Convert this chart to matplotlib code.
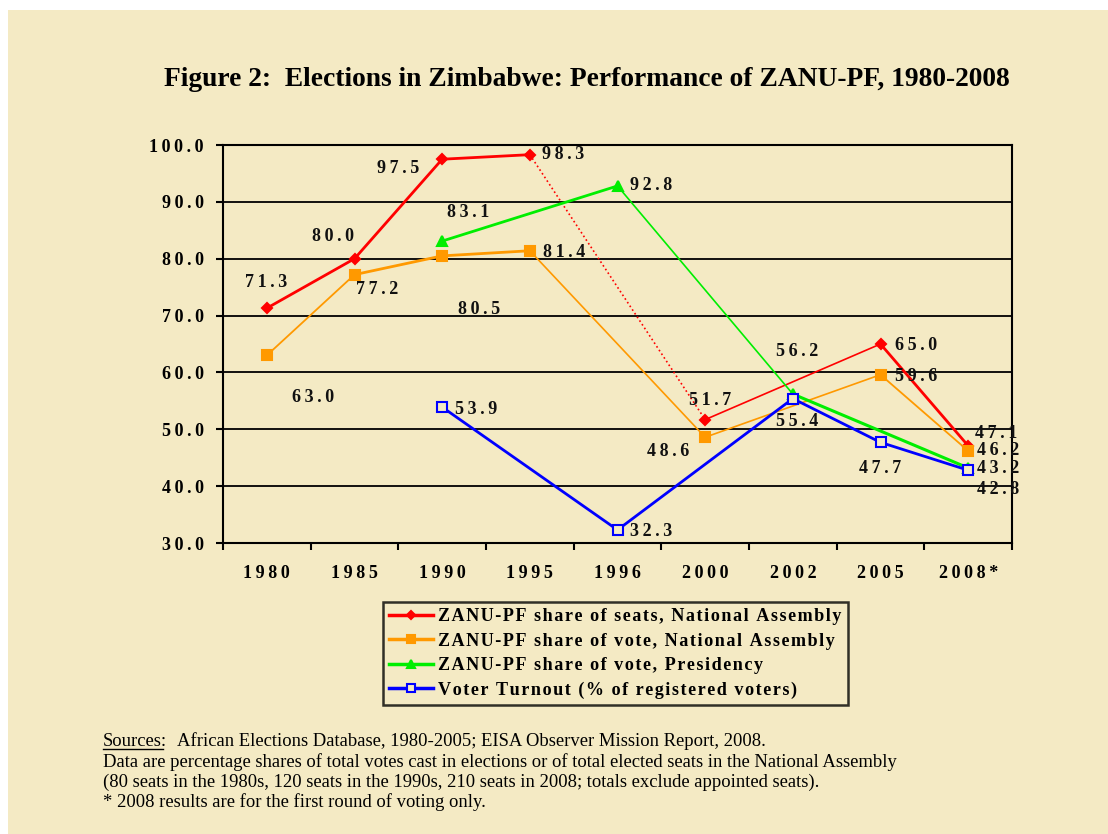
import matplotlib
matplotlib.use('Agg')
import matplotlib.pyplot as plt
import numpy as np
from matplotlib.lines import Line2D

nan = np.nan

# 数据
years = ['1980', '1985', '1990', '1995', '1996', '2000', '2002', '2005', '2008*']
seats_na = [71.3, 80.0, 97.5, 98.3, nan, 51.7, nan, 65.0, 47.1]
vote_na = [63.0, 77.2, 80.5, 81.4, nan, 48.6, nan, 59.6, 46.2]
vote_pres = [nan, nan, 83.1, nan, 92.8, nan, 56.2, nan, 43.2]
turnout = [nan, nan, 53.9, nan, 32.3, nan, 55.4, 47.7, 42.8]

labels = ['ZANU-PF share of seats, National Assembly',
          'ZANU-PF share of vote, National Assembly',
          'ZANU-PF share of vote, Presidency',
          'Voter Turnout (% of registered voters)']

title = 'Figure 2:  Elections in Zimbabwe: Performance of ZANU-PF, 1980-2008'
notes = ['Data are percentage shares of total votes cast in elections or of total elected seats in the National Assembly',
         '(80 seats in the 1980s, 120 seats in the 1990s, 210 seats in 2008; totals exclude appointed seats).',
         '* 2008 results are for the first round of voting only.']
sources = 'African Elections Database, 1980-2005; EISA Observer Mission Report, 2008.'

BG = '#F4EAC4'
SERIF = 'Liberation Serif'

# 样式: 颜色, 标记, 各线段宽度与线型
styles = [
    dict(color='#FF0000', marker='D', ms=5.5, mfc='#FF0000',
         widths=[2, 2, 2, 1.2, 1.2, 2], ls=['-', '-', '-', ':', '-', '-']),
    dict(color='#FF9900', marker='s', ms=7, mfc='#FF9900',
         widths=[1.3, 2, 2, 1.2, 1.2, 1.3], ls=['-'] * 6),
    dict(color='#00EE00', marker='^', ms=7, mfc='#00EE00',
         widths=[2, 1.2, 2.2], ls=['-'] * 3),
    dict(color='#0000FF', marker='s', ms=7, mfc=BG,
         widths=[2, 2, 2, 2], ls=['-'] * 4),
]

# 数据标签偏移 (像素)
offsets = [
    {0: (-1, 26), 1: (-21, 22), 2: (-44, -9), 3: (33, 0), 5: (5, 19), 7: (36, -2), 8: (28, 12)},
    {0: (46, -42), 1: (23, -15), 2: (37, -54), 3: (34, -2), 5: (-37, -14), 7: (36, -2), 8: (30, 0)},
    {2: (26, 29), 4: (34, 0), 6: (4, 43), 8: (30, -1)},
    {2: (34, -2), 4: (34, -2), 6: (4, -23), 7: (0, -26), 8: (30, -19)},
]


def spaced(s, sep='\u2009'):
    return sep.join(s)


fig = plt.figure(figsize=(11.08, 8.34), dpi=100, facecolor='white')
# 奶油色背景 (上方和左侧留白边)
fig.patches.append(plt.Rectangle((8 / 1108, 0), 1, 1 - 10 / 834, transform=fig.transFigure,
                                 facecolor=BG, edgecolor='none', zorder=-10))

ax = fig.add_axes([223 / 1108, (834 - 543) / 834, (1012 - 223) / 1108, (543 - 145) / 834])
ax.set_facecolor(BG)

x = np.arange(len(years))
series = [seats_na, vote_na, vote_pres, turnout]
for vals, st, offs in zip(series, styles, offsets):
    vals = np.array(vals, dtype=float)
    idx = [i for i in range(len(vals)) if not np.isnan(vals[i])]
    for k in range(len(idx) - 1):
        a, b = idx[k], idx[k + 1]
        ax.plot([x[a], x[b]], [vals[a], vals[b]], color=st['color'],
                lw=st['widths'][k], ls=st['ls'][k], zorder=3)
    ax.plot(x[idx], vals[idx], ls='none', marker=st['marker'], ms=st['ms'],
            mfc=st['mfc'], mec=st['color'], mew=1.5, zorder=4)
    for i in idx:
        dx, dy = offs[i]
        ax.annotate(spaced(f'{vals[i]:.1f}'), (x[i], vals[i]), xytext=(dx, dy),
                    textcoords='offset pixels', ha='center', va='center',
                    fontsize=13, fontweight='bold', family=SERIF, color='#111111', zorder=5)

ax.set_xlim(-0.5, len(years) - 0.5)
ax.set_ylim(30, 100)
ax.set_yticks(np.arange(30, 101, 10))
ax.set_yticklabels([spaced(f'{v:.1f}') for v in np.arange(30, 101, 10)],
                   fontsize=13, fontweight='bold', family=SERIF)
ax.set_xticks(x)
ax.set_xticklabels([spaced(y) for y in years], fontsize=13, fontweight='bold', family=SERIF)
ax.set_xticks(np.arange(-0.5, len(years)), minor=True)
ax.tick_params(axis='x', which='major', length=0, pad=16)
ax.tick_params(axis='x', which='minor', length=5, width=1.5, direction='out')
ax.tick_params(axis='y', length=5, width=1.5, direction='out', pad=9)
ax.grid(axis='y', color='black', lw=1.3)
ax.set_axisbelow(True)
for s in ax.spines.values():
    s.set_linewidth(1.5)

fig.text(587 / 1108, 1 - 79 / 834, title, ha='center', va='center',
         fontsize=19.8, fontweight='bold', family=SERIF)

# 图例
handles = [Line2D([], [], color=st['color'], lw=2.5, marker=st['marker'], ms=st['ms'] - 1,
                  mfc=st['mfc'], mec=st['color'], mew=1.5) for st in styles]
leg = fig.legend(handles, [spaced(l, '\u200a') for l in labels], loc='upper left',
                 bbox_to_anchor=(383 / 1108, 1 - 602 / 834),
                 bbox_transform=fig.transFigure, frameon=True, fancybox=False,
                 prop=dict(family=SERIF, weight='bold', size=13.1), handlelength=2.4,
                 handletextpad=0.3, labelspacing=0.4, borderpad=0.35, borderaxespad=0)
leg.get_frame().set_edgecolor('black')
leg.get_frame().set_linewidth(1.8)
leg.get_frame().set_facecolor(BG)

# 脚注
t = fig.text(103 / 1108, 1 - 741 / 834, 'Sources:', ha='left', va='center',
             fontsize=13.4, family=SERIF)
fig.text(177 / 1108, 1 - 741 / 834, sources, ha='left', va='center', fontsize=13.4, family=SERIF)
for k, line in enumerate(notes):
    fig.text(103 / 1108, 1 - (762 + 20 * k) / 834, line, ha='left', va='center',
             fontsize=13.4, family=SERIF)
fig.canvas.draw()
bb = t.get_window_extent().transformed(fig.transFigure.inverted())
fig.add_artist(Line2D([bb.x0, bb.x1 - 0.004], [bb.y0 + 0.001, bb.y0 + 0.001],
                      transform=fig.transFigure, color='black', lw=1))

fig.savefig('out.png', dpi=100, facecolor='white')
